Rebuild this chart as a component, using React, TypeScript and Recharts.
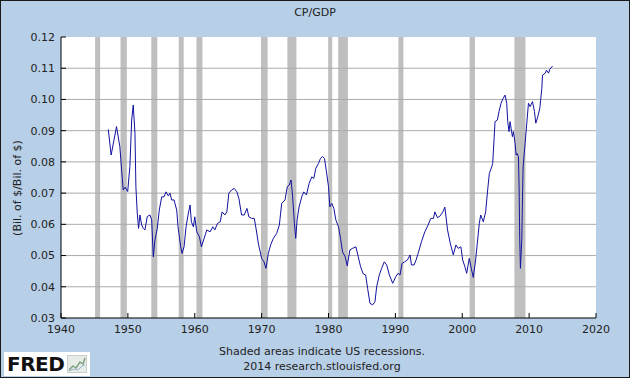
import { CartesianGrid, Line, LineChart, ReferenceArea, ReferenceLine, XAxis, YAxis } from "recharts"

// CP/GDP (decimal year, ratio)
const years = [
  1947.07, 1947.5, 1948.3, 1948.8, 1949.07, 1949.3, 1949.6, 1949.97, 1950.3, 1950.57, 1950.8,
  1951.06, 1951.2, 1951.4, 1951.6, 1951.8, 1952.06, 1952.3, 1952.55, 1952.9, 1953.3, 1953.56,
  1953.8, 1954.05, 1954.4, 1954.7, 1955.06, 1955.4, 1955.7, 1956.05, 1956.3, 1956.55, 1956.9,
  1957.3, 1957.5, 1957.9, 1958.1, 1958.4, 1958.7, 1959.0, 1959.3, 1959.5, 1959.8, 1960.0,
  1960.3, 1960.7, 1961.0, 1961.4, 1961.8, 1962.3, 1962.7, 1963.0, 1963.4, 1963.8, 1964.1,
  1964.5, 1964.8, 1965.1, 1965.5, 1965.9, 1966.3, 1966.6, 1967.0, 1967.4, 1967.8, 1968.1,
  1968.5, 1968.9, 1969.2, 1969.5, 1970.0, 1970.35, 1970.65, 1971.0, 1971.35, 1971.75, 1972.25,
  1972.65, 1973.0, 1973.5, 1973.84, 1974.14, 1974.4, 1974.64, 1974.9, 1975.1, 1975.3, 1975.6,
  1976.0, 1976.3, 1976.7, 1977.1, 1977.5, 1977.8, 1978.1, 1978.5, 1978.8, 1979.1, 1979.4,
  1979.7, 1980.0, 1980.2, 1980.5, 1980.8, 1981.1, 1981.5, 1981.8, 1982.1, 1982.5, 1982.8,
  1983.2, 1983.6, 1984.1, 1984.45, 1984.8, 1985.2, 1985.55, 1985.85, 1986.2, 1986.6, 1986.95,
  1987.2, 1987.6, 1987.95, 1988.35, 1988.7, 1989.1, 1989.6, 1990.05, 1990.4, 1990.7, 1991.0,
  1991.4, 1991.8, 1992.2, 1992.4, 1992.8, 1993.1, 1993.4, 1993.9, 1994.4, 1994.9, 1995.3,
  1995.7, 1995.9, 1996.3, 1996.7, 1997.1, 1997.4, 1997.8, 1998.2, 1998.66, 1999.06, 1999.4,
  1999.8, 2000.06, 2000.4, 2000.66, 2001.05, 2001.4, 2001.65, 2002.0, 2002.3, 2002.55, 2002.76,
  2003.15, 2003.5, 2003.8, 2004.05, 2004.4, 2004.55, 2004.75, 2004.9, 2005.25, 2005.5, 2005.8,
  2006.1, 2006.4, 2006.65, 2006.8, 2007.0, 2007.15, 2007.3, 2007.5, 2007.65, 2007.9, 2008.05,
  2008.2, 2008.4, 2008.5, 2008.6, 2008.7, 2008.9, 2009.0, 2009.1, 2009.4, 2009.65, 2009.9,
  2010.15, 2010.5, 2010.8, 2011.0, 2011.3, 2011.6, 2011.9, 2012.0, 2012.4, 2012.6, 2012.9,
  2013.1, 2013.5,
]
const cpGdp = [
  0.0904, 0.0822, 0.0913, 0.0849, 0.0774, 0.071, 0.0719, 0.0705, 0.0785, 0.0934, 0.0982,
  0.0892, 0.072, 0.0636, 0.0587, 0.063, 0.0598, 0.0587, 0.0582, 0.0625, 0.063, 0.0614,
  0.0496, 0.055, 0.0588, 0.0646, 0.0688, 0.0688, 0.0704, 0.0691, 0.07, 0.0678, 0.0678,
  0.0646, 0.0592, 0.0528, 0.0507, 0.0528, 0.0592, 0.063, 0.0662, 0.0608, 0.0592, 0.0624,
  0.0576, 0.056, 0.0528, 0.0555, 0.0582, 0.0576, 0.0592, 0.0582, 0.0603, 0.0608, 0.064,
  0.063, 0.064, 0.07, 0.071, 0.0715, 0.0704, 0.0683, 0.063, 0.063, 0.0651, 0.0624,
  0.0619, 0.0619, 0.0582, 0.054, 0.0491, 0.048, 0.0459, 0.0507, 0.0534, 0.0555, 0.0571,
  0.0598, 0.0667, 0.0678, 0.0721, 0.0726, 0.0742, 0.0688, 0.0603, 0.0555, 0.0614, 0.0656,
  0.0688, 0.0704, 0.0694, 0.0731, 0.0752, 0.0747, 0.0779, 0.0795, 0.0811, 0.0817, 0.0811,
  0.0768, 0.0721, 0.0656, 0.0667, 0.0651, 0.0614, 0.0592, 0.0555, 0.0512, 0.0496, 0.0467,
  0.0518, 0.0523, 0.0528, 0.0496, 0.0464, 0.0441, 0.0438, 0.0395, 0.0347, 0.0342, 0.0352,
  0.04, 0.0438, 0.0459, 0.048, 0.047, 0.0438, 0.0411, 0.0432, 0.0443, 0.0438, 0.0475,
  0.048, 0.0486, 0.0502, 0.047, 0.047, 0.0486, 0.0507, 0.0544, 0.0576, 0.0598, 0.0619,
  0.0619, 0.064, 0.0621, 0.0627, 0.064, 0.0655, 0.0582, 0.054, 0.0502, 0.0534, 0.0523,
  0.0528, 0.0486, 0.0464, 0.0443, 0.0491, 0.0454, 0.043, 0.0486, 0.055, 0.0603, 0.063,
  0.0608, 0.064, 0.071, 0.0763, 0.0784, 0.0795, 0.087, 0.0929, 0.0934, 0.0961, 0.0988,
  0.1003, 0.1014, 0.0988, 0.0929, 0.0897, 0.0929, 0.0908, 0.0881, 0.0897, 0.086, 0.0822,
  0.0827, 0.0817, 0.0721, 0.055, 0.0459, 0.055, 0.0678, 0.0784, 0.086, 0.0924, 0.0988,
  0.0977, 0.0993, 0.0961, 0.0924, 0.0945, 0.0972, 0.1036, 0.1078, 0.1084, 0.1094, 0.1084,
  0.1097, 0.1107,
]

// US recessions (shaded)
const recessionStart = [1945.1, 1948.9, 1953.5, 1957.6, 1960.25, 1969.9, 1973.85, 1979.95, 1981.45, 1990.45, 2001.1, 2007.8]
const recessionEnd = [1945.85, 1949.85, 1954.4, 1958.35, 1961.15, 1970.9, 1975.2, 1980.55, 1982.9, 1991.2, 2001.9, 2009.45]

const xTicks = [1940, 1950, 1960, 1970, 1980, 1990, 2000, 2010, 2020]
const yTicks = [0.03, 0.04, 0.05, 0.06, 0.07, 0.08, 0.09, 0.1, 0.11, 0.12]
const gridLevels = [0.04, 0.05, 0.06, 0.07, 0.08, 0.09, 0.1, 0.11]

const data = years.map((year, i) => ({ year, value: cpGdp[i] }))

const font = '"DejaVu Sans", Verdana, sans-serif'
const textColor = "#222"

export default function App() {
  return (
    <div
      style={{
        position: "fixed",
        left: 0,
        top: 0,
        width: 630,
        height: 378,
        background: "#b7cfe7",
        fontFamily: font,
        color: textColor,
        overflow: "hidden",
      }}
    >
      <LineChart width={630} height={378} data={data} margin={{ top: 37, right: 34, bottom: 30, left: 0 }}>
        <CartesianGrid horizontal={false} vertical={false} fill="#ffffff" stroke="none" />
        {recessionStart.map((start, i) => (
          <ReferenceArea
            key={start}
            x1={start}
            x2={recessionEnd[i]}
            fill="#bfbfbf"
            fillOpacity={1}
            stroke="none"
            ifOverflow="hidden"
          />
        ))}
        {gridLevels.map((v) => (
          <ReferenceLine key={v} y={v} stroke="#ababab" strokeWidth={1} />
        ))}
        <XAxis
          dataKey="year"
          type="number"
          domain={[1940, 2020]}
          ticks={xTicks}
          interval={0}
          allowDataOverflow
          height={30}
          stroke="#000"
          tickSize={-5}
          tickMargin={12}
          tick={{ fill: textColor, fontSize: 11, fontFamily: font }}
        />
        <YAxis
          type="number"
          domain={[0.03, 0.12]}
          ticks={yTicks}
          interval={0}
          allowDataOverflow
          width={61}
          stroke="#000"
          tickSize={-5}
          tickMargin={11}
          tickFormatter={(v: number) => v.toFixed(2)}
          tick={{ fill: textColor, fontSize: 11, fontFamily: font }}
        />
        <Line
          type="linear"
          dataKey="value"
          stroke="#1212a0"
          strokeWidth={1}
          dot={false}
          isAnimationActive={false}
        />
      </LineChart>

      <div style={{ position: "absolute", left: 0, width: 630, top: 6, textAlign: "center", fontSize: 11 }}>CP/GDP</div>

      <div
        style={{
          position: "absolute",
          left: 17,
          top: 188,
          transform: "translate(-50%, -50%) rotate(-90deg)",
          whiteSpace: "nowrap",
          fontSize: 11,
        }}
      >
        (Bil. of $/Bil. of $)
      </div>

      <div style={{ position: "absolute", left: 0, width: 644, top: 344, textAlign: "center", fontSize: 11, lineHeight: "15px" }}>
        Shaded areas indicate US recessions.
        <br />
        2014 research.stlouisfed.org
      </div>

      <div
        style={{
          position: "absolute",
          left: 4,
          top: 352,
          width: 86,
          height: 24,
          background: "#fff",
          display: "flex",
          alignItems: "center",
        }}
      >
        <span style={{ fontWeight: 900, fontSize: 20, letterSpacing: -0.5, marginLeft: 3, color: "#111", fontFamily: font }}>
          FRED
        </span>
        <svg width={20} height={18} style={{ marginLeft: 3 }}>
          <rect x={0.5} y={0.5} width={19} height={17} fill="#e8ece8" stroke="#c8d0c8" />
          <polyline points="2,15 6,11 9,13 13,7 16,9 18,3" fill="none" stroke="#7fa37f" strokeWidth={1.5} />
          <polyline points="2,16 7,14 11,15 15,11 18,10" fill="none" stroke="#9ab5d0" strokeWidth={1} />
        </svg>
      </div>

      <div
        style={{
          position: "absolute",
          left: 0,
          top: 0,
          width: 630,
          height: 378,
          boxSizing: "border-box",
          border: "1px solid #1a1a1a",
          pointerEvents: "none",
        }}
      />
    </div>
  )
}
